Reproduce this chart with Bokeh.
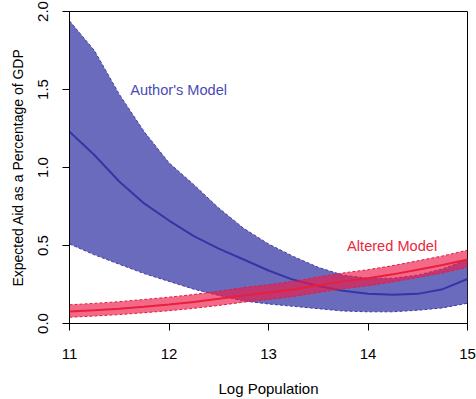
from bokeh.plotting import figure
from bokeh.models import FixedTicker, PrintfTickFormatter, Label, Range1d
from bokeh.embed import file_html
from bokeh.resources import INLINE

log_pop = [11, 11.25, 11.5, 11.75, 12, 12.25, 12.5, 12.75, 13, 13.25, 13.5, 13.75, 14, 14.25, 14.5, 14.75, 15]

author_mean = [1.23, 1.08, 0.91, 0.77, 0.66, 0.56, 0.48, 0.41, 0.34, 0.28, 0.24, 0.21, 0.19, 0.185, 0.19, 0.22, 0.285]
author_upper = [1.94, 1.75, 1.47, 1.23, 1.03, 0.89, 0.74, 0.61, 0.51, 0.43, 0.36, 0.31, 0.29, 0.29, 0.31, 0.35, 0.41]
author_lower = [0.51, 0.44, 0.38, 0.32, 0.27, 0.22, 0.18, 0.145, 0.125, 0.11, 0.095, 0.08, 0.075, 0.075, 0.085, 0.10, 0.13]

altered_mean = [0.077, 0.085, 0.095, 0.108, 0.122, 0.138, 0.158, 0.18, 0.198, 0.218, 0.245, 0.27, 0.29, 0.315, 0.345, 0.375, 0.41]
altered_upper = [0.12, 0.129, 0.14, 0.154, 0.169, 0.186, 0.207, 0.23, 0.249, 0.27, 0.298, 0.324, 0.345, 0.371, 0.402, 0.433, 0.47]
altered_lower = [0.04, 0.048, 0.057, 0.069, 0.082, 0.097, 0.116, 0.137, 0.154, 0.173, 0.199, 0.223, 0.242, 0.266, 0.295, 0.324, 0.36]

x_ticks = [11, 12, 13, 14, 15]
y_ticks = [0.0, 0.5, 1.0, 1.5, 2.0]

FONT = "Liberation Sans"

p = figure(width=476, height=399, output_backend="svg", toolbar_location=None,
           x_range=Range1d(11, 15), y_range=Range1d(0, 2),
           min_border_left=69, min_border_right=9, min_border_top=11, min_border_bottom=73)

p.xgrid.visible = False
p.ygrid.visible = False
p.outline_line_color = "black"
p.outline_line_width = 1
p.background_fill_color = "white"
p.border_fill_color = "white"

# Author's model band
p.varea(x=log_pop, y1=author_lower, y2=author_upper, fill_color="#6b6bbe", fill_alpha=1.0)
p.line(log_pop, author_upper, line_color="#3d3da3", line_width=1, line_dash="3 2")
p.line(log_pop, author_lower, line_color="#3d3da3", line_width=1, line_dash="3 2")
p.line(log_pop, author_mean, line_color="#3535a5", line_width=2)

# Altered model band
p.varea(x=log_pop, y1=altered_lower, y2=altered_upper, fill_color="#f01848", fill_alpha=0.65)
p.line(log_pop, altered_upper, line_color="#e0203c", line_width=1, line_dash="3 2")
p.line(log_pop, altered_lower, line_color="#e0203c", line_width=1, line_dash="3 2")
p.line(log_pop, altered_mean, line_color="#e8203a", line_width=2)

p.add_layout(Label(x=11.61, y=1.5, text="Author's Model", text_color="#4b4bb5",
                   text_font=FONT, text_font_size="14.6px", text_baseline="middle"))
p.add_layout(Label(x=13.79, y=0.5, text="Altered Model", text_color="#e8283c",
                   text_font=FONT, text_font_size="14.6px", text_baseline="middle"))

for ax in (p.xaxis[0], p.yaxis[0]):
    ax.axis_line_color = "black"
    ax.major_tick_line_color = "black"
    ax.major_tick_out = 7
    ax.major_tick_in = 0
    ax.minor_tick_line_color = None
    ax.major_label_text_font = FONT
    ax.major_label_text_font_size = "15px"
    ax.major_label_text_color = "black"
    ax.axis_label_text_font = FONT
    ax.axis_label_text_font_style = "normal"
    ax.axis_label_text_color = "black"

p.xaxis.axis_label_text_font_size = "15px"
p.yaxis.axis_label_text_font_size = "14px"
p.xaxis.ticker = FixedTicker(ticks=x_ticks)
p.yaxis.ticker = FixedTicker(ticks=y_ticks)
p.yaxis.formatter = PrintfTickFormatter(format="%.1f")
p.yaxis.major_label_orientation = "vertical"
p.xaxis.axis_label = "Log Population"
p.yaxis.axis_label = "Expected Aid as a Percentage of GDP"
p.xaxis.major_label_standoff = 18
p.yaxis.major_label_standoff = 15
p.xaxis.axis_label_standoff = 18
p.yaxis.axis_label_standoff = 9

open("out.html", "w").write(file_html(p, INLINE))
